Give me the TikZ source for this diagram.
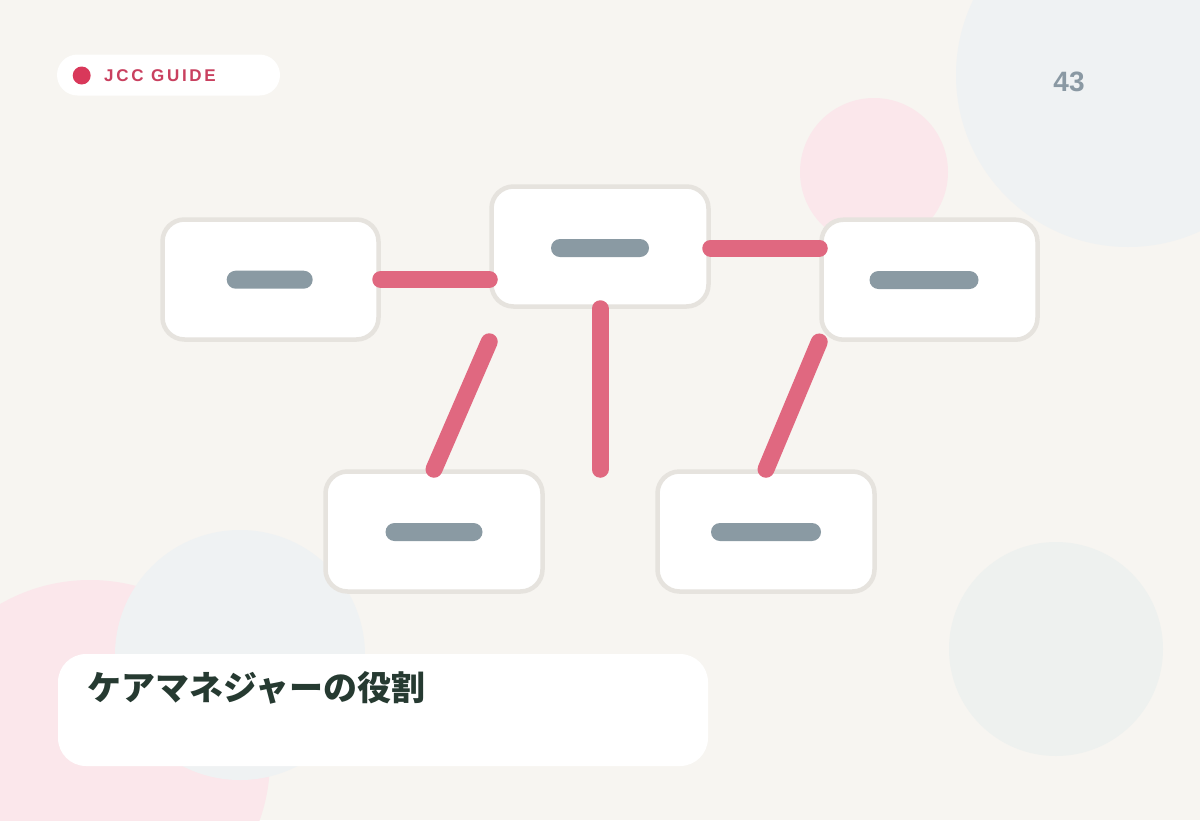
\documentclass[tikz,border=0pt]{standalone}
\usepackage{fontspec}
\setmainfont{Liberation Sans}
\newfontfamily\jpfont{Noto Sans CJK JP}
\newfontfamily\badgefont[LetterSpace=16]{Liberation Sans}
\definecolor{bgcol}{HTML}{F7F5F1}
\definecolor{circblue}{HTML}{EFF2F3}
\definecolor{circpink}{HTML}{FBE7EB}
\definecolor{circgreen}{HTML}{EEF1EF}
\definecolor{boxline}{HTML}{E6E3DE}
\definecolor{linkcol}{HTML}{E06880}
\definecolor{barcol}{HTML}{8A9AA3}
\definecolor{titlecol}{HTML}{263A31}
\definecolor{dotcol}{HTML}{D9385A}
\definecolor{badgetext}{HTML}{C9405F}
\definecolor{numcol}{HTML}{8A99A3}
\tikzset{
  card/.style={draw=boxline, fill=white, line width=4.5pt, rounded corners=22pt,
    minimum width=216pt, minimum height=120pt, inner sep=0pt},
  bar/.style={fill=barcol, rounded corners=9pt, minimum height=18pt, inner sep=0pt},
  link/.style={draw=linkcol, line width=17pt, line cap=round},
}
\begin{document}
\begin{tikzpicture}[x=1pt, y=-1pt]
\useasboundingbox (0,0) rectangle (1200,820);
\clip (0,0) rectangle (1200,820);
\fill[bgcol] (0,0) rectangle (1200,820);
% background circles
\fill[circblue] (1128,75) circle (172);
\fill[circpink] (874,172) circle (74);
\fill[circgreen] (1056,649) circle (107);
\fill[circpink] (90,760) circle (180);
\fill[circblue] (240,655) circle (125);

% badge
\node[fill=white, rounded corners=20.5pt, minimum width=223pt, minimum height=41pt, inner sep=0pt] (badge) at (168.5,75) {};
\fill[dotcol] (81.7,75.5) circle (9);
\node[anchor=west, inner sep=0pt, text=badgetext, font=\badgefont\bfseries\fontsize{17}{20}\selectfont] (badgetxt) at (104,75.5) {JCC GUIDE};

% page number
\node[inner sep=0pt, text=numcol, font=\bfseries\fontsize{28}{30}\selectfont] (pagenum) at (1069,81.5) {43};

% cards
\node[card] (A) at (270.5,279.5) {};
\node[card, minimum width=217pt] (B) at (600,246.5) {};
\node[card] (C) at (929.5,279.7) {};
\node[card, minimum width=217pt] (D) at (434,531.5) {};
\node[card, minimum width=217pt] (E) at (766,531.5) {};

% bars
\node[bar, minimum width=86pt] (barA) at (269.7,279.7) {};
\node[bar, minimum width=98pt] (barB) at (600,248) {};
\node[bar, minimum width=109pt] (barC) at (924,280) {};
\node[bar, minimum width=97pt] (barD) at (434,532) {};
\node[bar, minimum width=110pt] (barE) at (766,532) {};

% links
\draw[link] (A.east) -- (A.east -| B.west);
\draw[link] ([yshift=-1.5pt]B.east) -- ([yshift=-1.5pt]B.east -| C.west);
\draw[link] (B.west |- A.south) -- (D.north);
\draw[link] (B.south) -- (B.south |- D.north);
\draw[link] (C.south west) -- (E.north);

% title panel
\node[fill=white, rounded corners=28pt, minimum width=650pt, minimum height=112pt, inner sep=0pt] (panel) at (383,710) {};
\node[anchor=west, inner sep=0pt, text=titlecol, font=\jpfont\bfseries\fontsize{34}{37}\selectfont] (title) at (87,687.5) {ケアマネジャーの役割};
\end{tikzpicture}
\end{document}
